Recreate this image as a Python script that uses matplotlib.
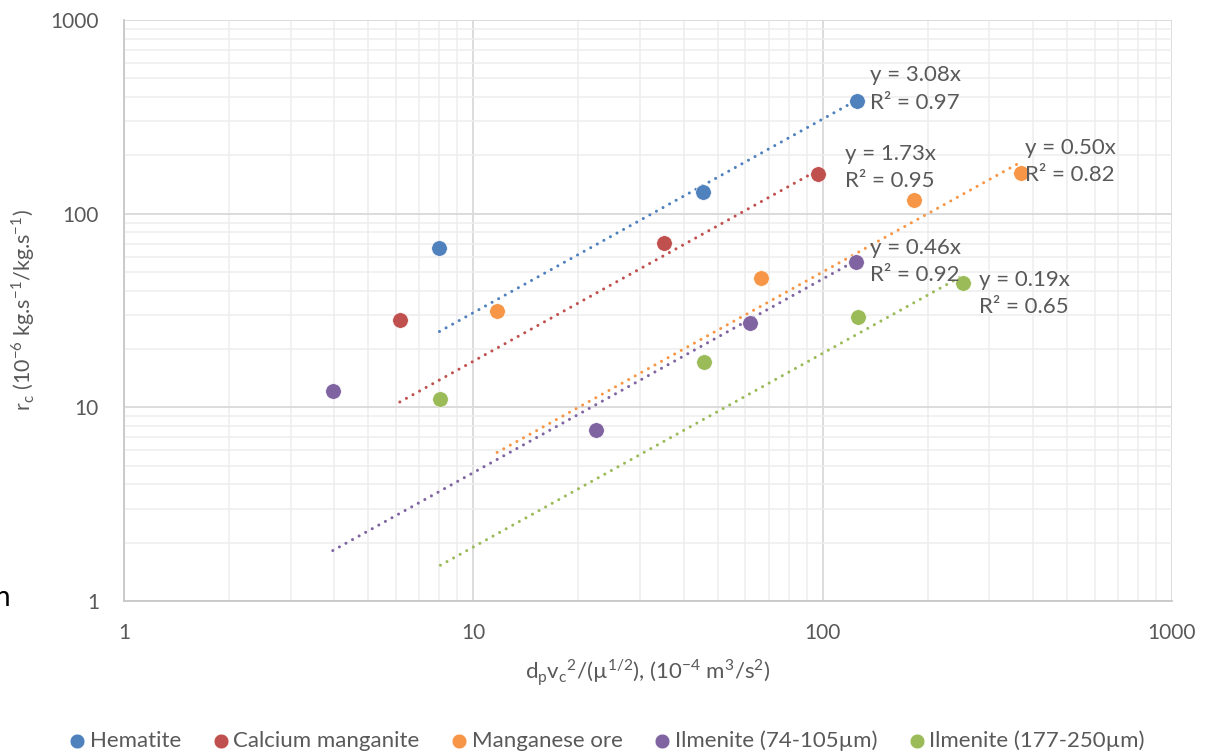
import numpy as np
import matplotlib.pyplot as plt
from matplotlib.ticker import LogLocator, NullFormatter

plt.rcParams['font.family'] = ['Lato', 'DejaVu Sans']
plt.rcParams['mathtext.fontset'] = 'custom'
plt.rcParams['mathtext.rm'] = 'Lato'

# data
names = ['Hematite', 'Calcium manganite', 'Manganese ore',
         'Ilmenite (74-105µm)', 'Ilmenite (177-250µm)']
colors = ['#4F81BD', '#C0504D', '#F79646', '#8064A2', '#9BBB59']

hem_x = [8.0, 45.4, 125.0]
hem_y = [66.8, 129.8, 382.0]
cam_x = [6.16, 35.1, 96.8]
cam_y = [28.1, 70.9, 160.8]
mno_x = [11.7, 66.5, 183.0, 369.0]
mno_y = [31.6, 46.8, 118.0, 162.6]
il1_x = [3.96, 22.4, 61.8, 124.2]
il1_y = [12.1, 7.6, 27.1, 56.6]
il2_x = [8.05, 45.6, 126.0, 253.0]
il2_y = [11.1, 17.1, 29.4, 43.6]

slopes = [3.08, 1.73, 0.50, 0.46, 0.19]
r2 = [0.97, 0.95, 0.82, 0.92, 0.65]
# label offsets (pixels) from last point of each series
offsets = [(13, 12), (27, 6), (4, 11), (14, 0), (16, -10)]

xs = [hem_x, cam_x, mno_x, il1_x, il2_x]
ys = [hem_y, cam_y, mno_y, il1_y, il2_y]

txt = '#595959'

fig = plt.figure(figsize=(12.1, 7.53), dpi=100)
ax = fig.add_axes([124/1210, 1-601/753, (1172-124)/1210, (601-20)/753])
ax.set_xscale('log')
ax.set_yscale('log')
ax.set_xlim(1, 1000)
ax.set_ylim(1, 1000)

for i in range(5):
    x = np.array(xs[i])
    y = np.array(ys[i])
    xl = np.array([x.min(), x.max()])
    ax.plot(xl, slopes[i]*xl, color=colors[i], lw=2.2,
            linestyle=(0, (0.01, 2.45)), dash_capstyle='round', zorder=3)
    ax.scatter(x, y, s=125, color=colors[i], edgecolor='white',
               linewidth=0.4, zorder=4, label=names[i])
    ax.annotate('y = %.2fx\nR² = %.2f' % (slopes[i], r2[i]),
                xy=(x[-1], y[-1]), xytext=offsets[i],
                textcoords='offset pixels', ha='left', va='center',
                fontsize=16, color=txt, linespacing=1.45, zorder=5)

ax.xaxis.set_minor_locator(LogLocator(base=10, subs=np.arange(2, 10)))
ax.yaxis.set_minor_locator(LogLocator(base=10, subs=np.arange(2, 10)))
ax.xaxis.set_minor_formatter(NullFormatter())
ax.yaxis.set_minor_formatter(NullFormatter())
ax.set_xticks([1, 10, 100, 1000])
ax.set_xticklabels(['1', '10', '100', '1000'])
ax.set_yticks([1, 10, 100, 1000])
ax.set_yticklabels(['1', '10', '100', '1000'])
ax.grid(which='major', color='#d9d9d9', lw=1.3, zorder=0)
ax.grid(which='minor', color='#ededed', lw=1.1, zorder=0)
ax.set_axisbelow(True)
ax.tick_params(which='both', length=0, labelsize=15, colors=txt)
ax.tick_params(axis='x', pad=16)
ax.tick_params(axis='y', pad=18)
for s in ['top', 'right']:
    ax.spines[s].set_visible(False)
for s in ['left', 'bottom']:
    ax.spines[s].set_color('#c8c8c8')
    ax.spines[s].set_linewidth(1.3)

ax.set_xlabel(r'd$_\mathregular{p}$v$_\mathregular{c}$$^\mathregular{2}$/(µ$^\mathregular{1/2}$), '
              r'(10$^\mathregular{-4}$ m$^\mathregular{3}$/s$^\mathregular{2}$)',
              fontsize=16, color=txt, labelpad=10)
ax.set_ylabel(r'r$_\mathregular{c}$ (10$^\mathregular{-6}$ kg.s$^\mathregular{-1}$/kg.s$^\mathregular{-1}$)',
              fontsize=15.5, color=txt, labelpad=10)

leg = fig.legend(loc='center', bbox_to_anchor=(0.5, 1-741/753), ncol=5,
                 frameon=False, fontsize=16, handletextpad=0.0,
                 handlelength=1.1, columnspacing=1.25, markerscale=0.95)
for t in leg.get_texts():
    t.set_color(txt)

# clipped letter at the left edge of the source image
fig.text(-0.004, 1-598/753, 'n', fontsize=20, color='black', va='center')

fig.savefig('out.png', dpi=100)
